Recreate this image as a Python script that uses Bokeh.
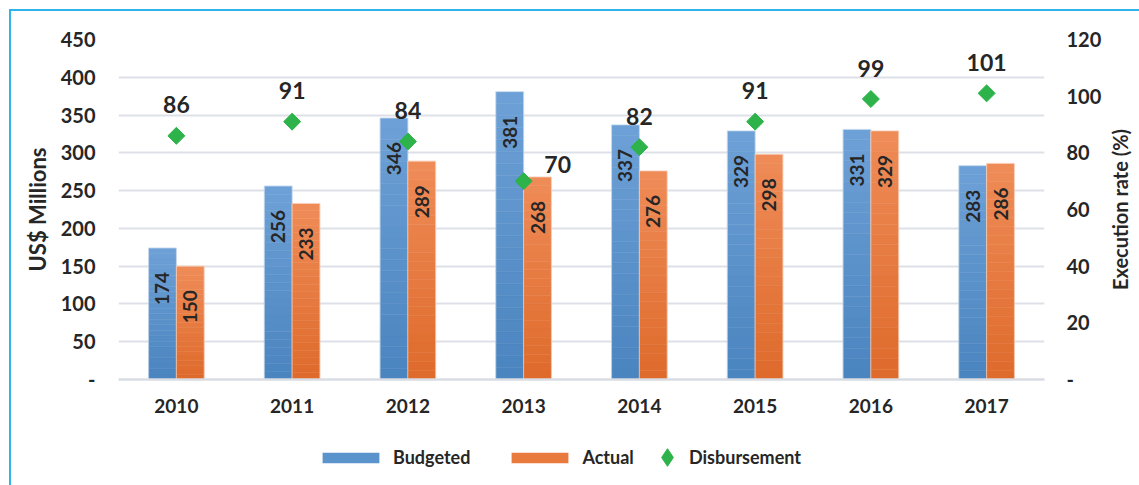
import numpy as np
from bokeh.plotting import figure
from bokeh.layouts import column, row
from bokeh.models import (ColumnDataSource, Range1d, LinearAxis, Legend, LegendItem,
                          FixedTicker)
from bokeh.transform import dodge
from bokeh.core.properties import value
from bokeh.embed import file_html
from bokeh.resources import INLINE

years = ["2010", "2011", "2012", "2013", "2014", "2015", "2016", "2017"]
budgeted = [174, 256, 346, 381, 337, 329, 331, 283]
actual = [150, 233, 289, 268, 276, 298, 329, 286]
disbursement = [86, 91, 84, 70, 82, 91, 99, 101]

FONT = "Lato"
TXT = "#262626"
BLUE = "#5b93cc"
ORANGE = "#e97a3e"
GREEN = "#2db34a"

# label placement (style only): the 2013 rate label is nudged right, as in the original
nudge = {"2013": (34, -17)}
dx = [nudge.get(y, (0, -31))[0] for y in years]
dy = [nudge.get(y, (0, -31))[1] for y in years]

src = ColumnDataSource(dict(years=years, budgeted=budgeted, actual=actual,
                            disbursement=disbursement,
                            blab=[str(v) for v in budgeted],
                            alab=[str(v) for v in actual],
                            dlab=[str(v) for v in disbursement],
                            dx=dx, dy=dy))

W = 1128
PW = 1093
p = figure(x_range=years, y_range=Range1d(0, 450), width=PW, height=420,
           output_backend="svg", toolbar_location=None,
           min_border_left=107, min_border_right=51, min_border_top=28,
           min_border_bottom=52)
p.outline_line_color = None
p.extra_y_ranges = {"rate": Range1d(0, 120)}

def hex2rgb(h):
    h = h.lstrip("#")
    return np.array([int(h[i:i + 2], 16) for i in (0, 2, 4)], dtype=float)

def rgb2hex(c):
    return "#%02x%02x%02x" % tuple(int(round(v)) for v in c)

def gradient_bars(field, offset, bottom_col, top_col, n=24):
    vals = np.array(src.data[field], dtype=float)
    b, t = hex2rgb(bottom_col), hex2rgb(top_col)
    for i in range(n):
        col = rgb2hex(b + (t - b) * (i + 0.5) / n)
        s = ColumnDataSource(dict(years=years, bot=list(vals * i / n),
                                  top=list(vals * (i + 1) / n)))
        p.vbar(x=dodge("years", offset, range=p.x_range),
               bottom="bot", top="top", source=s, width=0.24,
               fill_color=col, line_color=col, line_width=0.5)
    p.vbar(x=dodge("years", offset, range=p.x_range), top=field, bottom=0,
           source=src, width=0.24, fill_color=None,
           line_color="white", line_alpha=0.45, line_width=1)

gradient_bars("budgeted", -0.12, "#4a84be", "#6ea1d7")
gradient_bars("actual", 0.12, "#de6a2b", "#ef8c58")

for field, lab, off in (("budgeted", "blab", -0.12), ("actual", "alab", 0.12)):
    p.text(x=dodge("years", off, range=p.x_range), y=field, text=lab, source=src,
           angle=np.pi / 2, text_align="right", text_baseline="middle",
           y_offset=24, text_font=value(FONT), text_font_style="bold",
           text_font_size="19px", text_color=TXT)

p.scatter(x="years", y="disbursement", source=src, y_range_name="rate",
          marker="square", angle=np.pi / 4, size=12,
          fill_color=GREEN, line_color=GREEN)
p.text(x="years", y="disbursement", text="dlab", source=src, y_range_name="rate",
       text_align="center", text_baseline="alphabetic", x_offset="dx", y_offset="dy",
       text_font=value(FONT), text_font_style="bold", text_font_size="23px",
       text_color=TXT)

# axes
p.yaxis.ticker = FixedTicker(ticks=list(range(0, 451, 50)))
p.yaxis.major_label_overrides = {0: "-"}
p.yaxis.axis_label = "US$ Millions"
ra_axis = LinearAxis(y_range_name="rate", ticker=FixedTicker(ticks=list(range(0, 121, 20))))
ra_axis.major_label_overrides = {0: "-"}
p.add_layout(ra_axis, "right")

for ax in (p.yaxis[0], ra_axis):
    ax.axis_line_color = None
    ax.major_tick_line_color = None
    ax.minor_tick_line_color = None
    ax.major_label_text_font = FONT
    ax.major_label_text_font_style = "bold"
    ax.major_label_text_font_size = "20px"
    ax.major_label_text_color = TXT
    ax.axis_label_text_font = FONT
    ax.axis_label_text_font_style = "bold"
    ax.axis_label_text_color = TXT
p.yaxis[0].major_label_standoff = 17
p.yaxis[0].axis_label_text_font_size = "22px"
p.yaxis[0].axis_label_standoff = 7
ra_axis.major_label_standoff = 16

xa = p.xaxis[0]
xa.axis_line_color = "#d9dde3"
xa.axis_line_width = 2.5
xa.major_tick_line_color = None
xa.minor_tick_line_color = None
xa.major_label_text_font = FONT
xa.major_label_text_font_style = "bold"
xa.major_label_text_font_size = "19px"
xa.major_label_text_color = TXT
xa.major_label_standoff = 13

p.xgrid.grid_line_color = None
p.ygrid.grid_line_color = "#dde1e7"
p.ygrid.grid_line_width = 2

# narrow strip carrying the right-hand axis title (reads bottom to top)
rf = figure(width=W - PW, height=420, x_range=Range1d(0, 1), y_range=Range1d(0, 1),
            x_axis_type=None, output_backend="svg", toolbar_location=None,
            min_border_left=0, min_border_right=4, min_border_top=28,
            min_border_bottom=52)
rf.outline_line_color = None
rf.ygrid.visible = False
ry = rf.yaxis[0]
ry.ticker = FixedTicker(ticks=[])
ry.axis_line_color = None
ry.major_tick_line_color = None
ry.minor_tick_line_color = None
ry.major_label_standoff = 0
ry.axis_label = "Execution rate (%)"
ry.axis_label_standoff = 0
ry.axis_label_text_font = FONT
ry.axis_label_text_font_style = "bold"
ry.axis_label_text_font_size = "20px"
ry.axis_label_text_color = TXT

# legend strip below the chart
lf = figure(width=W, height=54, x_range=Range1d(0, 1), y_range=Range1d(0, 1),
            x_axis_type=None, y_axis_type=None, output_backend="svg",
            toolbar_location=None, min_border_left=107, min_border_right=86,
            min_border_top=0, min_border_bottom=0)
lf.outline_line_color = None
# zero-size proxy glyphs that only provide the legend keys
kb = lf.vbar(x=[0], top=[0], width=0, fill_color=BLUE, line_color=None)
ka = lf.vbar(x=[0], top=[0], width=0, fill_color=ORANGE, line_color=None)
kd = lf.scatter(x=[0], y=[0], size=0, marker="diamond", fill_color=GREEN, line_color=GREEN)

leg1 = Legend(items=[LegendItem(label="Budgeted", renderers=[kb]),
                     LegendItem(label="Actual", renderers=[ka])],
              location=(197, 17), orientation="horizontal",
              glyph_width=71, glyph_height=13, label_standoff=7, spacing=34,
              padding=0, margin=0, border_line_color=None, background_fill_alpha=0)
leg2 = Legend(items=[LegendItem(label="Disbursement", renderers=[kd])],
              location=(527, 6), orientation="horizontal",
              glyph_width=44, glyph_height=44, label_standoff=0,
              padding=0, margin=0, border_line_color=None, background_fill_alpha=0)
for lg in (leg1, leg2):
    lg.label_text_font = FONT
    lg.label_text_font_style = "bold"
    lg.label_text_font_size = "18px"
    lg.label_text_color = TXT
    lf.add_layout(lg, "center")

layout = column(row(p, rf, spacing=0), lf, spacing=0,
                styles={"margin-left": "9px", "margin-top": "9px",
                        "border-top": "2px solid #2eb4ea",
                        "border-left": "2px solid #2eb4ea"})

open("out.html", "w").write(file_html(layout, INLINE))
